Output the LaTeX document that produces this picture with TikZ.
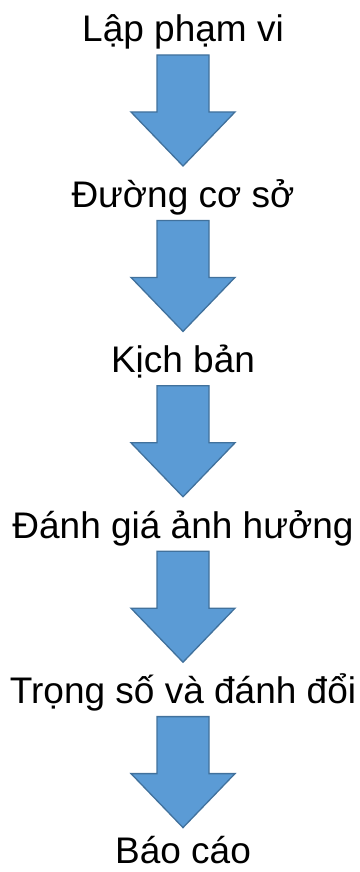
\documentclass[tikz,border=0pt]{standalone}
\usepackage{fontspec}
\setmainfont{Liberation Sans}
\definecolor{afill}{HTML}{5B9BD5}
\definecolor{aline}{HTML}{41719C}
\begin{document}
\begin{tikzpicture}[x=1pt,y=-1pt,
  lbl/.style={anchor=base,inner sep=0pt,font=\fontsize{37}{44}\selectfont},
  downarrow/.style={fill=afill,draw=aline,line width=1.3pt,line join=miter}]
\useasboundingbox (0,0) rectangle (359,872);
\def\gap{165.4}
\node[lbl] (t1) at (183,42) {Lập phạm vi};
\node[lbl] (t2) at (183,{42+\gap}) {Đường cơ sở};
\node[lbl] (t3) at (183,{42+2*\gap}) {Kịch bản};
\node[lbl] (t4) at (183,{42+3*\gap}) {Đánh giá ảnh hưởng};
\node[lbl] (t5) at (183,{42+4*\gap}) {Trọng số và đánh đổi};
\node[lbl] (t6) at (183,863) {Báo cáo};
\foreach \k in {0,...,4}{
  \pgfmathsetmacro{\b}{42+\k*\gap}
  \draw[downarrow] (157,\b+13) -- (209,\b+13) -- (209,\b+70) -- (235,\b+70)
     -- (183,\b+124) -- (131,\b+70) -- (157,\b+70) -- cycle;
}
\end{tikzpicture}
\end{document}
